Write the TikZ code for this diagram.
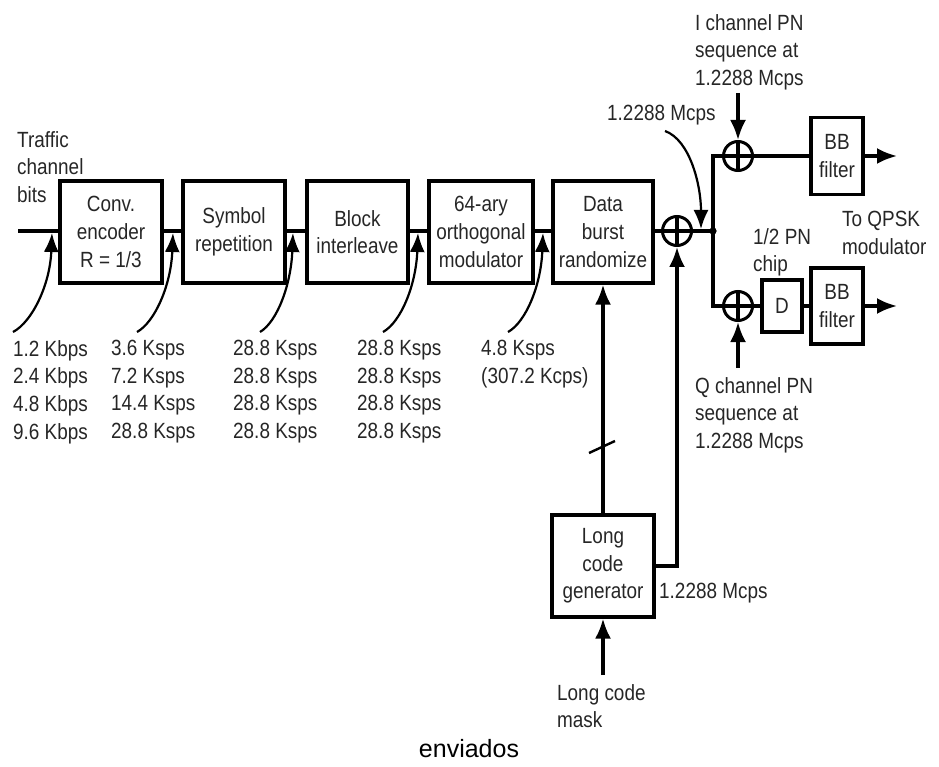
\documentclass[tikz,border=0pt]{standalone}
\usepackage{fontspec}
\setmainfont{Liberation Sans}[FakeStretch=0.86]
\newfontfamily\capfont{Liberation Sans}
\usetikzlibrary{arrows.meta}
\newcommand\lblfont{\fontsize{22}{27.7}\selectfont}
\begin{document}
\begin{tikzpicture}[x=1pt,y=-1pt,
  blk/.style={draw, line width=3.2pt, align=center, inner sep=0pt, font=\lblfont, text=black!85},
  wire/.style={line width=3.2pt},
  arr/.style={line width=3.2pt, -{Latex[length=20pt,width=16pt]}},
  carr/.style={line width=2.2pt, -{Latex[length=19pt,width=15pt]}},
  txt/.style={anchor=north west, inner sep=0pt, align=left, font=\lblfont, text=black!85},
  xorc/.style={circle, draw, line width=3pt, minimum size=29pt, inner sep=0pt,
    path picture={\draw[line width=4.5pt] (path picture bounding box.north) -- (path picture bounding box.south)
      (path picture bounding box.west) -- (path picture bounding box.east);}}]
\useasboundingbox (0,0) rectangle (939,767);
% main chain
\coordinate (in) at (18,231);
\node[blk, minimum width=102, minimum height=102] (conv) at (111,232) {Conv.\\encoder\\R = 1/3};
\node[blk, minimum width=102, minimum height=102] (sym) at (234,232) {Symbol\\repetition};
\node[blk, minimum width=101, minimum height=102] (blkint) at (357.5,232) {Block\\interleave};
\node[blk, minimum width=104, minimum height=102] (ortho) at (481,232) {64-ary\\orthogonal\\modulator};
\node[blk, minimum width=100, minimum height=102] (dbr) at (603,232) {Data\\burst\\randomize};
\node[xorc] (xor1) at (677,231) {};
\coordinate (jn) at (713,231);
\node[xorc] (xorI) at (738,156) {};
\node[xorc] (xorQ) at (738,306) {};
\node[blk, minimum width=52, minimum height=77] (bbI) at (837,156) {BB\\filter};
\node[blk, minimum width=40, minimum height=52] (dly) at (782,306) {D};
\node[blk, minimum width=52, minimum height=76] (bbQ) at (837,306) {BB\\filter};
\coordinate (outI) at (897,156);
\coordinate (outQ) at (897,306);
\node[blk, minimum width=102, minimum height=102] (lcg) at (603,566) {Long\\code\\generator};
% wires
\draw[wire] (in) -- (conv.west |- in) (conv.east |- in) -- (sym.west |- in) (sym.east |- in) -- (blkint.west |- in)
  (blkint.east |- in) -- (ortho.west |- in) (ortho.east |- in) -- (dbr.west |- in) (dbr.east |- in) -- (xor1) (xor1) -- (jn);
\draw[wire] (xorI) -| (jn) |- (xorQ);
\draw[wire] (xorI) -- (bbI);
\draw[wire] (xorQ) -- (dly) (dly) -- (bbQ);
\fill (jn) circle (3.6pt);
\draw[arr] (bbI) -- (outI);
\draw[arr] (bbQ) -- (outQ);
\coordinate (pnI) at (738,93);
\coordinate (pnQ) at (738,368);
\draw[arr] (pnI) -- (xorI.north);
\draw[arr] (pnQ) -- (xorQ.south);
\draw[arr] (lcg.north) -- (dbr.south);
\draw[arr] (lcg.east) -| (xor1.south);
\coordinate (mask) at (603,675);
\draw[arr] (mask) -- (lcg.south);
\draw[line width=2.4pt] (589,453) -- (615,441);
% curved rate arrows
\coordinate (s1) at (13,332);  \coordinate (t1) at (52,233);
\coordinate (s2) at (137,332); \coordinate (t2) at (173,233);
\coordinate (s3) at (260,332); \coordinate (t3) at (293,233);
\coordinate (s4) at (383,332); \coordinate (t4) at (418,233);
\coordinate (s5) at (508,332); \coordinate (t5) at (543,233);
\draw[carr] (s1) .. controls (32,322) and (50,285) .. (t1);
\draw[carr] (s2) .. controls (155,322) and (171,285) .. (t2);
\draw[carr] (s3) .. controls (277,322) and (291,285) .. (t3);
\draw[carr] (s4) .. controls (401,322) and (416,285) .. (t4);
\draw[carr] (s5) .. controls (526,322) and (541,285) .. (t5);
\coordinate (s6) at (665,131); \coordinate (t6) at (701,229);
\draw[carr] (s6) .. controls (690,140) and (701,185) .. (t6);
% labels
\node[txt] (lbits) at (17,131) {Traffic\\channel\\bits};
\node[txt] (r1) at (13,340) {1.2 Kbps\\2.4 Kbps\\4.8 Kbps\\9.6 Kbps};
\node[txt] (r2) at (111,340) {3.6 Ksps\\7.2 Ksps\\14.4 Ksps\\28.8 Ksps};
\node[txt] (r3) at (233,340) {28.8 Ksps\\28.8 Ksps\\28.8 Ksps\\28.8 Ksps};
\node[txt] (r4) at (357,340) {28.8 Ksps\\28.8 Ksps\\28.8 Ksps\\28.8 Ksps};
\node[txt] (r5) at (481,340) {4.8 Ksps\\(307.2 Kcps)};
\node[txt] (lmc) at (607,105) {1.2288 Mcps};
\node[txt] (lI) at (695,14) {I channel PN\\sequence at\\1.2288 Mcps};
\node[txt] (lQ) at (695,377) {Q channel PN\\sequence at\\1.2288 Mcps};
\node[txt] (lqpsk) at (842,211) {To QPSK\\modulator};
\node[txt] (lhalf) at (753,228) {1/2 PN\\chip};
\node[txt] (llcg) at (659,583) {1.2288 Mcps};
\node[txt] (lmask) at (557,684) {Long code\\mask};
\node[font=\capfont\fontsize{25}{30}\selectfont, inner sep=0pt] (cap) at (469,749) {enviados};
\end{tikzpicture}
\end{document}
